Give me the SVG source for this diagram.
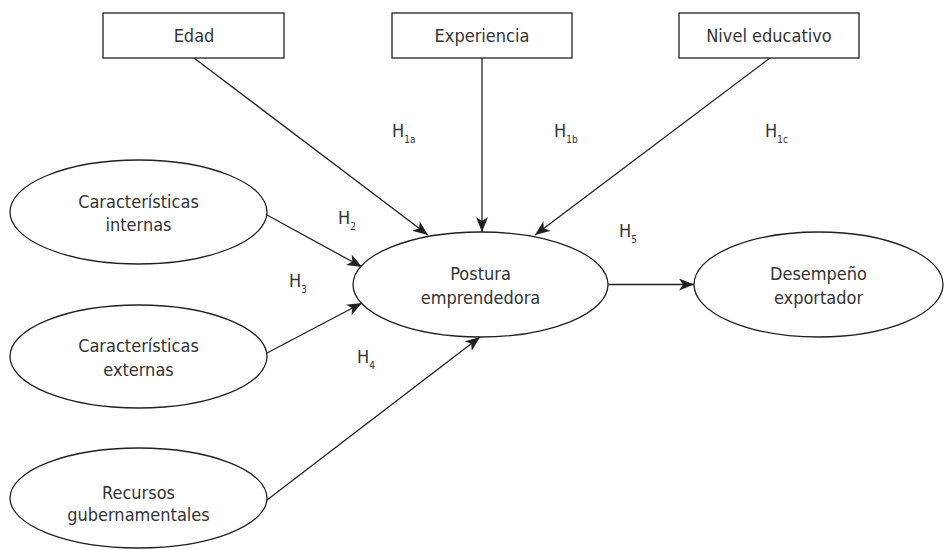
<svg xmlns="http://www.w3.org/2000/svg" width="949" height="550" viewBox="0 0 949 550">
<style>
.box{fill:#fff;stroke:#231f20;stroke-width:1.3}
.ell{fill:#fff;stroke:#231f20;stroke-width:1.3}
.t{font-family:"DejaVu Sans Condensed","DejaVu Sans",sans-serif;font-stretch:condensed;font-size:18px;fill:#333;text-anchor:middle}
.h{font-family:"DejaVu Sans Condensed","DejaVu Sans",sans-serif;font-stretch:condensed;font-size:18px;fill:#333}
.s{font-size:10px}
.c{stroke:#231f20;stroke-width:1.3;fill:none;marker-end:url(#ah)}
</style>
<defs>
<marker id="ah" markerWidth="16" markerHeight="12" refX="15" refY="6" orient="auto" markerUnits="userSpaceOnUse">
<path d="M0,0 L15,6 L0,12 L4,6 Z" fill="#231f20"/>
</marker>
</defs>
<g id="connectors">
<line class="c" x1="194" y1="58" x2="428" y2="235"/>
<line class="c" x1="482" y1="58" x2="482" y2="232"/>
<line class="c" x1="770" y1="58" x2="535" y2="235"/>
<line class="c" x1="267" y1="215" x2="362" y2="267"/>
<line class="c" x1="267" y1="353" x2="362" y2="303"/>
<line class="c" x1="267" y1="500" x2="480" y2="337"/>
<line class="c" x1="608" y1="284.5" x2="694" y2="284.5"/>
</g>
<g id="edad"><rect class="box" x="103" y="13" width="181" height="45"/><text class="t" x="194" y="42">Edad</text></g>
<g id="experiencia"><rect class="box" x="392" y="13" width="180" height="45"/><text class="t" x="482" y="42">Experiencia</text></g>
<g id="nivel"><rect class="box" x="679" y="13" width="180" height="45"/><text class="t" x="769" y="42">Nivel educativo</text></g>
<g id="internas"><ellipse class="ell" cx="138.5" cy="212" rx="128.5" ry="52"/><text class="t" x="138.5" y="207.5">Características</text><text class="t" x="138.5" y="231">internas</text></g>
<g id="externas"><ellipse class="ell" cx="138.5" cy="356.5" rx="128.5" ry="51.5"/><text class="t" x="138.5" y="352">Características</text><text class="t" x="138.5" y="376">externas</text></g>
<g id="recursos"><ellipse class="ell" cx="138.5" cy="498" rx="128.5" ry="50"/><text class="t" x="138.5" y="499">Recursos</text><text class="t" x="138.5" y="521">gubernamentales</text></g>
<g id="postura"><ellipse class="ell" cx="480.5" cy="284.5" rx="127.5" ry="52.5"/><text class="t" x="480.5" y="280">Postura</text><text class="t" x="480.5" y="304">emprendedora</text></g>
<g id="desempeno"><ellipse class="ell" cx="818.5" cy="284.5" rx="124.5" ry="52.5"/><text class="t" x="818.5" y="280">Desempeño</text><text class="t" x="818.5" y="304">exportador</text></g>
<g id="labels">
<text class="h" x="392" y="137">H<tspan class="s" dy="6">1a</tspan></text>
<text class="h" x="554" y="137">H<tspan class="s" dy="6">1b</tspan></text>
<text class="h" x="765" y="137">H<tspan class="s" dy="6">1c</tspan></text>
<text class="h" x="338" y="224">H<tspan class="s" dy="6">2</tspan></text>
<text class="h" x="289" y="287">H<tspan class="s" dy="6">3</tspan></text>
<text class="h" x="357" y="363">H<tspan class="s" dy="6">4</tspan></text>
<text class="h" x="619" y="237">H<tspan class="s" dy="6">5</tspan></text>
</g>
</svg>
